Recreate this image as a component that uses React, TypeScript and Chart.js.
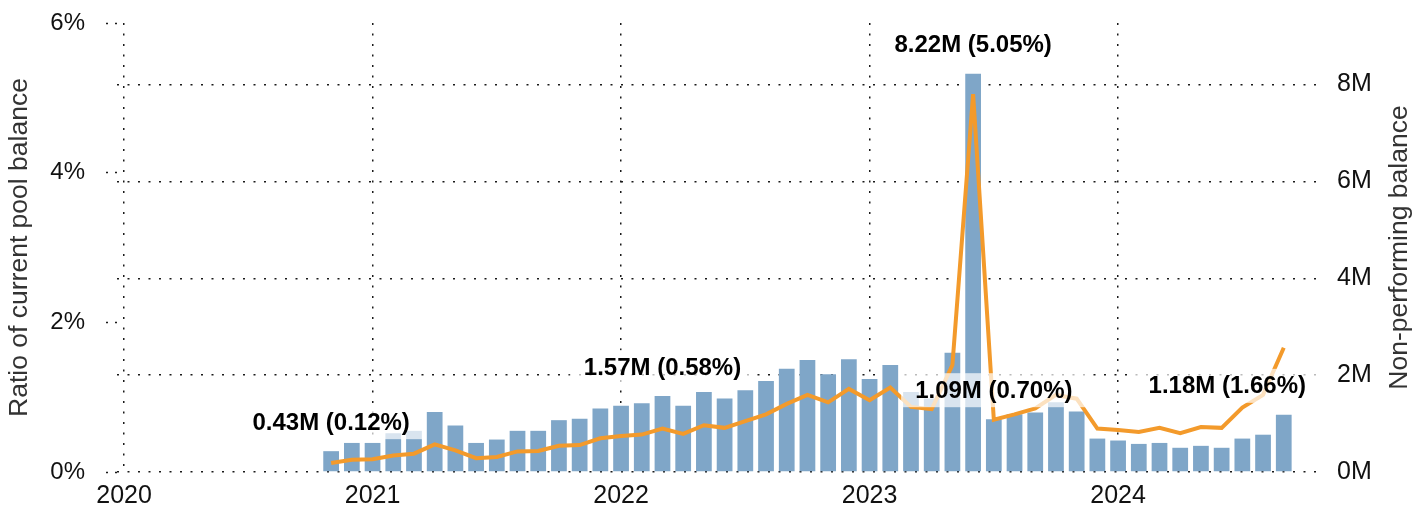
import React, { useEffect, useRef } from 'react';
import { Chart, registerables } from 'chart.js';

Chart.register(...registerables);

// ---- Data ----
const months = [
  '2020-11', '2020-12',
  '2021-01', '2021-02', '2021-03', '2021-04', '2021-05', '2021-06', '2021-07', '2021-08', '2021-09', '2021-10', '2021-11', '2021-12',
  '2022-01', '2022-02', '2022-03', '2022-04', '2022-05', '2022-06', '2022-07', '2022-08', '2022-09', '2022-10', '2022-11', '2022-12',
  '2023-01', '2023-02', '2023-03', '2023-04', '2023-05', '2023-06', '2023-07', '2023-08', '2023-09', '2023-10', '2023-11', '2023-12',
  '2024-01', '2024-02', '2024-03', '2024-04', '2024-05', '2024-06', '2024-07', '2024-08', '2024-09',
];

// Non-performing balance, millions (right axis, bars)
const nonPerformingBalanceM = [
  0.43, 0.60,
  0.60, 0.80, 0.85, 1.24, 0.96, 0.60, 0.67, 0.85, 0.85, 1.07, 1.10, 1.31,
  1.37, 1.42, 1.57, 1.37, 1.65, 1.52, 1.69, 1.88, 2.13, 2.31, 2.02, 2.33,
  1.92, 2.21, 1.65, 1.52, 2.46, 8.22, 1.09, 1.19, 1.23, 1.44, 1.25, 0.69,
  0.65, 0.58, 0.60, 0.50, 0.54, 0.50, 0.69, 0.77, 1.18,
];

// Ratio of current pool balance, percent (left axis, line)
const ratioPct = [
  0.12, 0.165,
  0.17, 0.22, 0.245, 0.37, 0.29, 0.185, 0.20, 0.275, 0.28, 0.35, 0.36, 0.45,
  0.48, 0.50, 0.58, 0.51, 0.625, 0.59, 0.68, 0.77, 0.91, 1.03, 0.93, 1.11,
  0.96, 1.13, 0.87, 0.84, 1.43, 5.05, 0.70, 0.77, 0.85, 1.03, 0.98, 0.58,
  0.56, 0.535, 0.59, 0.52, 0.60, 0.59, 0.86, 1.03, 1.66,
];

const yearTicks = [2020, 2021, 2022, 2023, 2024];
const leftTicksPct = [0, 2, 4, 6];
const rightTicksM = [0, 2, 4, 6, 8];
const annotatedMonths = ['2020-11', '2022-03', '2023-06', '2023-07', '2024-09'];

const leftTitle = 'Ratio of current pool balance';
const rightTitle = 'Non-performing balance';

const BASE_YEAR = 2020;
const monthIndex = (m: string) => {
  const [y, mo] = m.split('-').map(Number);
  return (y - BASE_YEAR) * 12 + (mo - 1);
};

const FONT = '"Liberation Sans", Arial, Helvetica, sans-serif';
const BAR_COLOR = '#7fa6c8';
const LINE_COLOR = '#f39a2b';
const GRID_COLOR = '#1a1a1a';

export default function App() {
  const ref = useRef<HTMLCanvasElement>(null);

  useEffect(() => {
    document.body.style.margin = '0';
    const canvas = ref.current;
    if (!canvas) return;

    const xs = months.map(monthIndex);

    const titlesPlugin = {
      id: 'axisTitles',
      afterDraw(chart: any) {
        const { ctx, chartArea } = chart;
        const cy = (chartArea.top + chartArea.bottom) / 2;
        ctx.save();
        ctx.font = `26.5px ${FONT}`;
        ctx.fillStyle = '#333';
        ctx.textAlign = 'center';
        ctx.textBaseline = 'middle';
        ctx.save();
        ctx.translate(20, cy);
        ctx.rotate(-Math.PI / 2);
        ctx.fillText(leftTitle, 0, 0);
        ctx.restore();
        ctx.save();
        ctx.translate(1400, cy);
        ctx.rotate(-Math.PI / 2);
        ctx.fillText(rightTitle, 0, 0);
        ctx.restore();
        ctx.restore();
      },
    };

    const labelsPlugin = {
      id: 'pointLabels',
      afterDatasetsDraw(chart: any) {
        const { ctx, chartArea } = chart;
        const xScale = chart.scales.x;
        const yBar = chart.scales.y1;
        ctx.save();
        ctx.font = `bold 24px ${FONT}`;
        ctx.textAlign = 'center';
        ctx.textBaseline = 'middle';
        annotatedMonths.forEach((m) => {
          const i = months.indexOf(m);
          if (i < 0) return;
          const text = `${nonPerformingBalanceM[i].toFixed(2)}M (${ratioPct[i].toFixed(2)}%)`;
          const px = xScale.getPixelForValue(xs[i]);
          const top = yBar.getPixelForValue(nonPerformingBalanceM[i]);
          const cy = top - 29;
          const w = ctx.measureText(text).width + 28;
          const h = 34;
          let bx = px - w / 2;
          if (bx + w > chartArea.right) bx = chartArea.right - w;
          if (bx < chartArea.left) bx = chartArea.left;
          ctx.fillStyle = 'rgba(255,255,255,0.7)';
          ctx.fillRect(bx, cy - h / 2, w, h);
          ctx.fillStyle = '#000';
          ctx.fillText(text, bx + w / 2, cy + 1);
        });
        ctx.restore();
      },
    };

    const chart = new Chart(canvas, {
      type: 'line',
      data: {
        datasets: [
          {
            type: 'line',
            label: leftTitle,
            data: xs.map((x, i) => ({ x, y: ratioPct[i] })),
            yAxisID: 'y',
            xAxisID: 'x',
            borderColor: LINE_COLOR,
            borderWidth: 4,
            pointRadius: 0,
            tension: 0,
            fill: false,
            order: 1,
          } as any,
          {
            type: 'bar',
            label: rightTitle,
            data: xs.map((x, i) => ({ x, y: nonPerformingBalanceM[i] })),
            yAxisID: 'y1',
            xAxisID: 'x',
            backgroundColor: BAR_COLOR,
            borderWidth: 0,
            barPercentage: 0.76,
            categoryPercentage: 1,
            order: 2,
          } as any,
        ],
      },
      options: {
        responsive: false,
        animation: false,
        devicePixelRatio: 1,
        layout: { padding: { top: 23, left: 0, right: 0, bottom: 0 } },
        plugins: { legend: { display: false }, tooltip: { enabled: false } },
        scales: {
          x: {
            type: 'linear',
            min: -0.34,
            max: 57.75,
            offset: false,
            afterFit: (s: any) => { s.height = 35; s.paddingLeft = 0; s.paddingRight = 0; },
            afterBuildTicks: (s: any) => {
              s.ticks = yearTicks.map((y) => ({ value: (y - BASE_YEAR) * 12 }));
            },
            ticks: {
              font: { family: FONT, size: 25 },
              color: '#111',
              padding: 9,
              maxRotation: 0,
              autoSkip: false,
              callback: (v: any) => {
                const y = yearTicks.find((yy) => (yy - BASE_YEAR) * 12 === Number(v));
                return y === undefined ? '' : String(y);
              },
            },
            grid: {
              color: GRID_COLOR,
              lineWidth: 1.5,
              drawTicks: false,
              offset: false,
            },
            border: { display: false, dash: [2, 8.5] },
          },
          y: {
            type: 'linear',
            position: 'left',
            min: 0,
            max: 6,
            afterFit: (s: any) => { s.width = 117; s.paddingTop = 0; s.paddingBottom = 0; },
            afterBuildTicks: (s: any) => {
              s.ticks = leftTicksPct.map((v) => ({ value: v }));
            },
            ticks: {
              font: { family: FONT, size: 24 },
              color: '#111',
              padding: 21,
              callback: (v: any) => `${v}%`,
            },
            grid: {
              drawOnChartArea: false,
              drawTicks: true,
              tickLength: 11,
              tickColor: GRID_COLOR,
              tickWidth: 1.5,
              tickBorderDash: [2, 7],
            },
            border: { display: false },
          },
          y1: {
            type: 'linear',
            position: 'right',
            min: 0,
            max: 9.27,
            afterFit: (s: any) => { s.width = 106; s.paddingTop = 0; s.paddingBottom = 0; },
            afterBuildTicks: (s: any) => {
              s.ticks = rightTicksM.map((v) => ({ value: v }));
            },
            ticks: {
              font: { family: FONT, size: 25 },
              color: '#111',
              padding: 17,
              callback: (v: any) => `${v}M`,
            },
            grid: {
              color: GRID_COLOR,
              lineWidth: 1.5,
              drawTicks: false,
            },
            border: { display: false, dash: [2, 8.5] },
          },
        },
      } as any,
      plugins: [titlesPlugin, labelsPlugin],
    });

    return () => chart.destroy();
  }, []);

  return (
    <div style={{ width: 1426, height: 507, background: '#fff' }}>
      <canvas ref={ref} width={1426} height={507} style={{ display: 'block' }} />
    </div>
  );
}
